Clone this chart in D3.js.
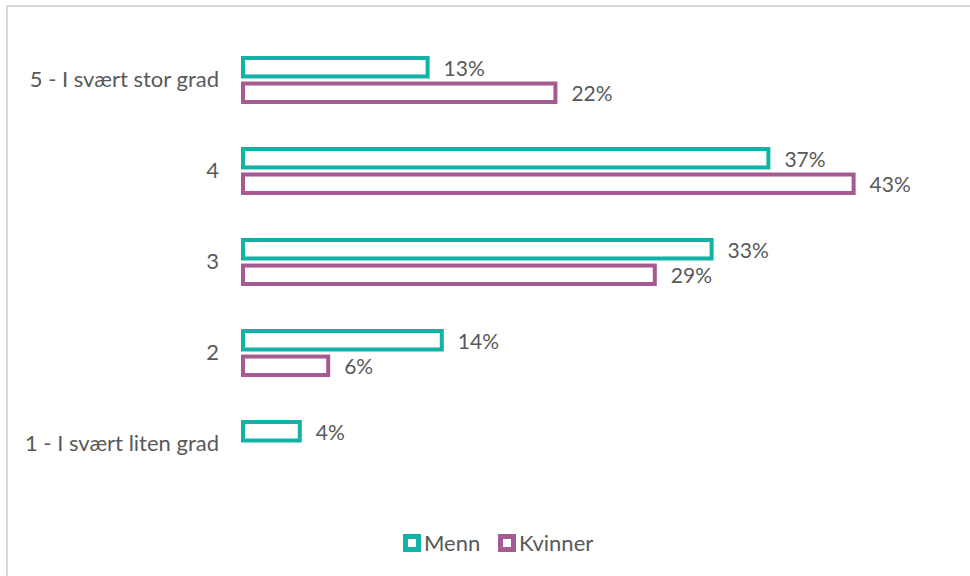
<!DOCTYPE html>
<html>
<head>
<meta charset="utf-8">
<script src="https://cdn.jsdelivr.net/npm/d3@7"></script>
<style>
  body { margin: 0; background: #fff; }
  text { font-family: Lato, "Open Sans", sans-serif; fill: #595959; }
  .axis .domain { display: none; }
</style>
</head>
<body>
<div id="chart"></div>
<script>
// Data
const categories = ['5 - I svært stor grad', '4', '3', '2', '1 - I svært liten grad'];
const seriesNames = ['Menn', 'Kvinner'];
const menn = [0.13, 0.37, 0.33, 0.14, 0.04];
const kvinner = [0.22, 0.43, 0.29, 0.06, null];
const seriesColors = ['#12b2a6', '#a55a92'];

class Barchart {

  constructor(_config) {
    this.config = {
      parentElement: _config.parentElement,
      containerWidth: _config.containerWidth || 970,
      containerHeight: _config.containerHeight || 576
    };
    this.initVis();
  }

  initVis() {
    let vis = this;

    vis.svg = d3.select(vis.config.parentElement)
      .append('svg')
      .attr('width', vis.config.containerWidth)
      .attr('height', vis.config.containerHeight);

    // light frame (only top and left edge are visible)
    vis.svg.append('path')
      .attr('d', `M7,${vis.config.containerHeight} V6 H${vis.config.containerWidth}`)
      .attr('fill', 'none')
      .attr('stroke', '#d9d9d9')
      .attr('stroke-width', 2);

    // scales
    vis.xScale = d3.scaleLinear()
      .domain([0, 0.45])
      .range([243, 243 + 14.2 * 45]);

    vis.yScale = d3.scaleBand()
      .domain(categories)
      .range([34.5, 489.5])
      .paddingInner(0.4725)
      .paddingOuter(0.236);

    vis.ySub = d3.scaleBand()
      .domain(seriesNames)
      .range([0, vis.yScale.bandwidth()])
      .paddingInner(0.12);

    vis.yAxis = d3.axisLeft(vis.yScale).tickSize(0).tickPadding(24);

    vis.yAxisG = vis.svg.append('g')
      .attr('class', 'axis y-axis')
      .attr('transform', `translate(${vis.xScale(0)},0)`);

    vis.chart = vis.svg.append('g');
    vis.legend = vis.svg.append('g');
  }

  updateVis() {
    let vis = this;
    vis.rows = [];
    categories.forEach((c, i) => {
      [menn, kvinner].forEach((s, j) => {
        if (s[i] != null) vis.rows.push({ cat: c, series: seriesNames[j], value: s[i], color: seriesColors[j] });
      });
    });
    vis.renderVis();
  }

  renderVis() {
    let vis = this;
    const sw = 4;

    vis.yAxisG.call(vis.yAxis);
    vis.yAxisG.selectAll('text')
      .style('font-size', '22px')
      .attr('fill', '#595959');

    vis.chart.selectAll('.bar')
      .data(vis.rows)
      .join('rect')
      .attr('class', 'bar')
      .attr('x', vis.xScale(0))
      .attr('y', d => vis.yScale(d.cat) + vis.ySub(d.series) + sw / 2)
      .attr('width', d => vis.xScale(d.value) - vis.xScale(0))
      .attr('height', vis.ySub.bandwidth() - sw)
      .attr('fill', '#fff')
      .attr('stroke', d => d.color)
      .attr('stroke-width', sw);

    vis.chart.selectAll('.label')
      .data(vis.rows)
      .join('text')
      .attr('class', 'label')
      .attr('x', d => vis.xScale(d.value) + 16)
      .attr('y', d => vis.yScale(d.cat) + vis.ySub(d.series) + vis.ySub.bandwidth() / 2 + 1)
      .attr('dy', '0.35em')
      .style('font-size', '21px')
      .text(d => d3.format('.0%')(d.value));

    // legend
    const legendX = [403, 498];
    const items = vis.legend.selectAll('g')
      .data(seriesNames)
      .join('g')
      .attr('transform', (d, i) => `translate(${legendX[i]},534)`);

    items.append('rect')
      .attr('x', 2.5).attr('y', 2.5)
      .attr('width', 13).attr('height', 13)
      .attr('fill', '#fff')
      .attr('stroke', (d, i) => seriesColors[i])
      .attr('stroke-width', 5);

    items.append('text')
      .attr('x', 21)
      .attr('y', 9)
      .attr('dy', '0.35em')
      .style('font-size', '22px')
      .text(d => d);
  }
}

const barchart = new Barchart({ parentElement: '#chart' });
barchart.updateVis();
</script>
</body>
</html>
